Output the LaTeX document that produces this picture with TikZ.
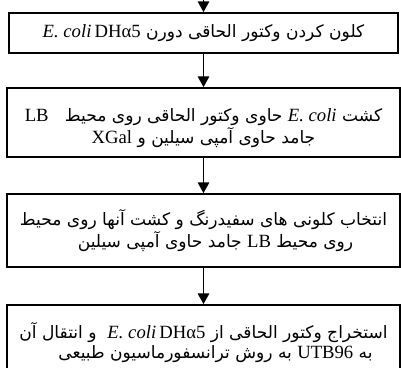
\documentclass[tikz,border=0pt]{standalone}
\usepackage{fontspec}
\setmainfont{Liberation Serif}
\newfontfamily\fa[Script=Arabic]{DejaVu Sans}
\TeXXeTstate=1
\usetikzlibrary{arrows.meta}
\newcommand{\lat}[1]{\beginL{\normalfont\fontsize{14}{15}\selectfont #1}\endL}
\newcommand{\rtl}[1]{\beginR #1\endR}
\begin{document}
\begin{tikzpicture}[x=0.75pt,y=-0.75pt,
  box/.style={draw, line width=1.3pt, inner sep=0pt, align=center, minimum width=294.75pt},
  arr/.style={line width=1.2pt, -{Triangle[length=8pt,width=8.5pt]}},
  fatext/.style={font=\fa\fontsize{12.8}{15}\selectfont}]
\useasboundingbox (0,0) rectangle (401,368);
\coordinate (top) at (203.5,-5);
\node[box, fatext, minimum width=291.75pt, minimum height=30pt] (b1) at (203.5,33)
  {\rtl{کلون کردن وکتور الحاقی دورن \lat{\textit{E. coli}\,DHα5}}};
\node[box, fatext, font=\fa\fontsize{12.8}{17}\selectfont, minimum height=51.75pt] (b2) at (203.5,122.5)
  {\rtl{\rule{0pt}{18pt}کشت \lat{\textit{E. coli}} حاوی وکتور الحاقی روی محیط \ \ \lat{LB}}\\
   \rtl{جامد حاوی آمپی سیلین و \lat{XGal}}};
\node[box, fatext, minimum height=54.75pt] (b3) at (203.5,230.5)
  {\rtl{انتخاب کلونی های سفیدرنگ و کشت آنها روی محیط}\\
   \rtl{روی محیط \lat{LB} جامد حاوی آمپی سیلین\hspace*{18pt}}};
\node[box, fatext, minimum height=56.25pt] (b4) at (203.5,342.5)
  {\rtl{استخراج وکتور الحاقی از \lat{\textit{E. coli}\,DHα5} \ و انتقال آن}\\
   \rtl{به \lat{UTB96} به روش ترانسفورماسیون طبیعی\hspace*{18pt}}};
\draw[arr] (top) -- (b1.north);
\draw[arr] (b1.south) -- (b2.north);
\draw[arr] (b2.south) -- (b3.north);
\draw[arr] (b3.south) -- (b4.north);
\end{tikzpicture}
\end{document}
